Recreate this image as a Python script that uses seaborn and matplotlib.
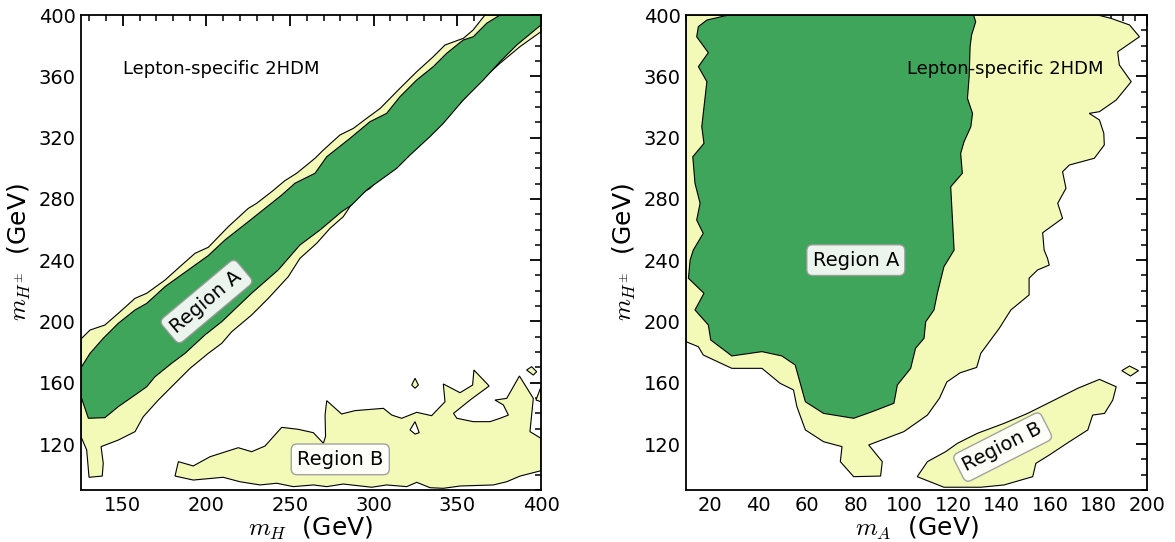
import matplotlib
matplotlib.use("Agg")
import matplotlib.pyplot as plt
import seaborn as sns
from matplotlib.ticker import MultipleLocator

# ---------------- data: contour boundaries ----------------
# Left panel (m_H vs m_H+-): 2-sigma (light) band of Region A
lA_out_x = [125, 125.4, 130.4, 139.3, 147.3, 157.3, 164.3, 175.2, 185.2, 193.2, 201.1, 213, 225, 230,
            239, 246.9, 253.9, 264.9, 269.9, 279.8, 287.8, 295.8, 303.8, 315.7, 325.7, 335.6, 342.6,
            353.6, 359.4, 366.5, 400, 400,
            387.5, 375.5, 363.5, 351.6, 341.6, 327.7, 315.7, 307.7, 297.8, 289.8, 281.8, 273.9, 265.9,
            255.9, 248.9, 237, 227, 215.1, 209.1, 201.1, 190.2, 181.2, 171.2, 162.2, 157.3, 147.3, 137,
            138.3, 137.7, 129.8, 128.4, 125]
lA_out_y = [189, 189, 194.4, 197.7, 205.3, 215.1, 218.4, 227, 236.8, 244.5, 248.4, 261.8, 273.8, 277.1,
            284.7, 291.9, 296.7, 306.5, 311.9, 321.7, 326, 332.6, 339, 352.2, 363, 372.8, 380.4,
            384.8, 390.2, 400, 400, 389.1,
            379.4, 368.5, 356.5, 342.4, 333.6, 320.6, 306.5, 298.8, 286.9, 281.4, 268.4, 260.8, 251,
            241.2, 229.2, 215.1, 204.2, 193.3, 185.7, 179.2, 169.4, 159.6, 148.7, 137.8, 128.1, 122.6, 118.3,
            107.4, 99.1, 98.3, 116.1, 124.8]
# Left panel: 1-sigma (green) core of Region A
lA_in_x = [125, 125.4, 130.4, 138.3, 147.3, 157.3, 164.3, 175.2, 189.1, 201.1, 211.1, 225, 245, 252.9,
           264.9, 271.9, 285.8, 297.8, 307.7, 315.7, 325.7, 335.6, 343.6, 353.5, 359.5, 367.5, 375.5,
           400, 400,
           385.5, 375.5, 365.5, 353.5, 341.6, 333.6, 321.7, 313.7, 295.8, 286.8, 280.8, 267.9, 255.9,
           242.9, 227, 209.1, 199.1, 187.2, 179.2, 169.2, 164.3, 157.3, 147.3, 139.3, 129.4, 125]
lA_in_y = [169.4, 170.5, 179.2, 189, 198.8, 207.5, 211.8, 222.7, 233.6, 243, 253.2, 265.1, 282.5, 290.2,
           296.7, 307.5, 319.5, 330.4, 335.8, 346.7, 357.6, 366.3, 375, 383.7, 385.8, 394.6, 400,
           400, 393.5,
           380.4, 369.5, 357.6, 344.5, 329.3, 320.6, 308.6, 299.9, 285.8, 276, 271.6, 259.7, 249.9,
           233.6, 218.4, 199.8, 191.2, 179.2, 172.7, 163.9, 157.4, 152, 144.4, 137.2, 136.8, 150.9]
# Left panel: Region B (light)
lB_x = [181.2, 183.2, 192.1, 202.1, 219, 227, 235, 245, 254.9, 263.9, 269.9, 271.2, 270.9, 271.9, 280.8,
        288.8, 305.8, 310.8, 316.7, 325.7, 334.6, 342.6, 341.6, 351.6, 359.1, 359.9, 369, 357.6, 347.7,
        349.7, 359.5, 369.5, 375.5, 380.5, 377.5, 372.5, 379.5, 387.1, 395.4, 393.4, 400, 400,
        387.5, 379.5, 371.5, 351.6, 341.6, 333.7, 325.7, 319.7, 307.7, 298.8, 281.8, 271.9, 263.9,
        251.9, 242, 232, 220, 210, 192.1]
lB_y = [99.1, 108.5, 105.7, 111.7, 117.6, 115, 118.7, 130.9, 129.6, 127.4, 120.5, 125, 138.9, 148.3, 139.6,
        141.8, 143.3, 138.9, 136.8, 140.7, 138.5, 147.6, 159.2, 153.5, 158.5, 168.3, 157.9, 148.7, 140,
        136.8, 134.6, 134.6, 136.8, 138.9, 145.5, 148.7, 149.8, 164.4, 149.8, 128.1, 123.7, 102.6,
        99.1, 95.4, 93.3, 92.6, 91.1, 91.5, 95, 92.2, 93.3, 91.8, 93.9, 92.2, 93.3,
        92.2, 94.4, 93.3, 95.4, 98.3, 96.5]
# Left panel: small light islands and a white hole
l_isl1_x = [322.7, 324.7, 326.7, 324.7]
l_isl1_y = [158.5, 162.9, 158.5, 156.4]
l_isl2_x = [391.4, 394.4, 397.4, 395.4]
l_isl2_y = [168.3, 170.5, 167.2, 165.0]
l_isl3_x = [400, 397, 400]
l_isl3_y = [157.4, 148.7, 147.6]
l_hole_x = [321.7, 324.7, 327.2, 324.7]
l_hole_y = [129.2, 134.6, 127.4, 126.5]

# Right panel (m_A vs m_H+-): light region around Region A
rA_out_x = [10, 179.7, 185.2, 192.8, 196.9, 187.9, 188.6, 193.5, 187.3, 180.4, 176.2, 180.4, 182.2, 182.4,
            178.3, 168, 165.2, 166.6, 163.2, 165.2, 157, 157.6, 159, 159.7, 154.9, 151.4, 151.4, 143.9,
            139.1, 131.5, 129.8, 123, 117.5, 114.5, 109.5, 99.8, 85.3, 90.9, 90.2, 79.1, 73.6, 74.3,
            66.7, 59.2, 55.7, 54.3, 48.8, 41.3, 28.9, 17.1, 15.1, 10]
rA_out_y = [400, 400, 397.8, 393.5, 385.8, 376, 367.4, 356.5, 344.5, 336.9, 335.8, 331.5, 322.8, 315.2,
            306.5, 302.1, 297.7, 286.9, 277.1, 267.3, 257.9, 246.6, 241.2, 236.8, 233.6, 228.2, 217.3, 207.5,
            195.5, 179.2, 170, 166.5, 160.5, 150, 138.9, 128.1, 119.4, 108.5, 99.1, 98.7, 108.5, 118.3,
            121.5, 129.2, 144.4, 155.3, 159.6, 169.4, 169.4, 178.1, 183.5, 186.8]
# Right panel: green core of Region A
rA_in_x = [27.5, 128.5, 129.4, 127.7, 127.1, 126.7, 126, 128.1, 127.4, 124.6, 123.2, 123.9, 119.1, 120.5,
           116.3, 113.6, 112.2, 108.8, 108.1, 104.6, 102.6, 97.1, 95.7, 86.7, 79.1, 66.7, 59.2, 55,
           49.5, 41.3, 28.9, 20.2, 19.2, 13.7, 17.4, 11, 11.7, 13, 17.1, 14.4, 15.8, 13.7, 12.8, 17.4,
           16.5, 18.6, 15.1, 19.2, 14.4, 15.1, 18.6]
rA_in_y = [400, 400, 395.6, 386.9, 379.4, 359.7, 345.6, 335.8, 327.1, 317.3, 309.7, 296.7, 287.9, 246.6,
           235.7, 218.4, 207.5, 199.8, 189, 182.5, 169.4, 158.5, 146.6, 141.1, 136.8, 140, 147.6, 171.6,
           177.5, 180.3, 177.5, 187.9, 197.7, 207.5, 218.4, 228.2, 240.1, 246.6, 257.5, 266.2, 277.1,
           290.2, 307.5, 316.2, 327.1, 356.5, 366.3, 375.4, 385.8, 392.4, 396.7]
# Right panel: Region B (light)
rB_x = [105.3, 109.5, 117, 121.9, 130.1, 141.1, 150.8, 161.8, 171.5, 180.4, 187.3, 185.9, 182.5, 177.6,
        175.6, 168, 159.7, 154.2, 152.9, 141.1, 131.5, 116.3]
rB_y = [98.7, 108.5, 115, 120.5, 127, 133.5, 140, 148.7, 156.4, 162.2, 157.4, 148.7, 140, 138.9,
        129.2, 121.5, 112.8, 107.4, 98.7, 93.3, 91.8, 91.8]
r_isl_x = [189.6, 192.8, 196.5, 193.2]
r_isl_y = [167.9, 170.9, 167.9, 164.4]

y_ticks = [120, 160, 200, 240, 280, 320, 360, 400]
left_xticks = [150, 200, 250, 300, 350, 400]
right_xticks = [20, 40, 60, 80, 100, 120, 140, 160, 180, 200]

# ---------------- style ----------------
sns.set_style("white")
plt.rcParams['font.family'] = ['DejaVu Sans']
plt.rcParams['mathtext.fontset'] = 'cm'
plt.rcParams['text.color'] = 'black'
plt.rcParams['axes.labelcolor'] = 'black'
plt.rcParams['xtick.color'] = 'black'
plt.rcParams['ytick.color'] = 'black'

LIGHT = '#f3f9b6'
GREEN = '#3fa55b'
EDGE = dict(edgecolor='black', linewidth=0.8)
BOX = dict(boxstyle='round,pad=0.3', facecolor='white', edgecolor='#999999', alpha=0.9)

fig = plt.figure(figsize=(11.75, 5.42), dpi=100)
axL = fig.add_axes([0.06894, 0.09594, 0.39149, 0.87638])
axR = fig.add_axes([0.58383, 0.09594, 0.39234, 0.87638])


def style_axis(ax, xlim, xticks, xminor, xlabel):
    ax.set_xlim(*xlim)
    ax.set_ylim(90, 400)
    ax.set_xticks(xticks)
    ax.set_yticks(y_ticks)
    ax.xaxis.set_minor_locator(MultipleLocator(xminor))
    ax.yaxis.set_minor_locator(MultipleLocator(10))
    ax.tick_params(which='both', direction='in', top=True, right=True, colors='black',
                   labelcolor='black')
    ax.tick_params(which='major', length=8, width=1.3, labelsize=14, pad=4)
    ax.tick_params(which='minor', length=4, width=1.1)
    for s in ax.spines.values():
        s.set_color('black')
        s.set_linewidth(1.3)
        s.set_zorder(10)
    ax.set_xlabel(xlabel, fontsize=18, labelpad=0, color='black')
    ax.set_ylabel(r'$m_{H^{\pm}}$  (GeV)', fontsize=18, labelpad=4, color='black')


# Left panel
axL.fill(lA_out_x, lA_out_y, facecolor=LIGHT, zorder=1, **EDGE)
axL.fill(lA_in_x, lA_in_y, facecolor=GREEN, zorder=2, **EDGE)
axL.fill(lB_x, lB_y, facecolor=LIGHT, zorder=1, **EDGE)
for xs, ys in [(l_isl1_x, l_isl1_y), (l_isl2_x, l_isl2_y), (l_isl3_x, l_isl3_y)]:
    axL.fill(xs, ys, facecolor=LIGHT, zorder=2, **EDGE)
axL.fill(l_hole_x, l_hole_y, facecolor='white', zorder=2, **EDGE)
style_axis(axL, (125, 400), left_xticks, 10, r'$m_H$  (GeV)')
axL.text(150, 365, 'Lepton-specific 2HDM', fontsize=13, ha='left', va='center', zorder=5,
         color='black')
axL.text(200, 213, 'Region A', fontsize=14, rotation=40, ha='center', va='center',
         rotation_mode='anchor', bbox=BOX, zorder=6, color='black')
axL.text(280, 110, 'Region B', fontsize=14, ha='center', va='center', bbox=BOX, zorder=6,
         color='black')

# Right panel
axR.fill(rA_out_x, rA_out_y, facecolor=LIGHT, zorder=1, **EDGE)
axR.fill(rA_in_x, rA_in_y, facecolor=GREEN, zorder=2, **EDGE)
axR.fill(rB_x, rB_y, facecolor=LIGHT, zorder=1, **EDGE)
axR.fill(r_isl_x, r_isl_y, facecolor=LIGHT, zorder=2, **EDGE)
style_axis(axR, (10, 200), right_xticks, 5, r'$m_A$  (GeV)')
axR.text(101, 365, 'Lepton-specific 2HDM', fontsize=13, ha='left', va='center', zorder=5,
         color='black')
axR.text(80, 240, 'Region A', fontsize=14, ha='center', va='center', bbox=BOX, zorder=6,
         color='black')
axR.text(140.5, 118, 'Region B', fontsize=14, rotation=27, ha='center', va='center',
         rotation_mode='anchor', bbox=BOX, zorder=6, color='black')

fig.savefig('out.png', dpi=100)
